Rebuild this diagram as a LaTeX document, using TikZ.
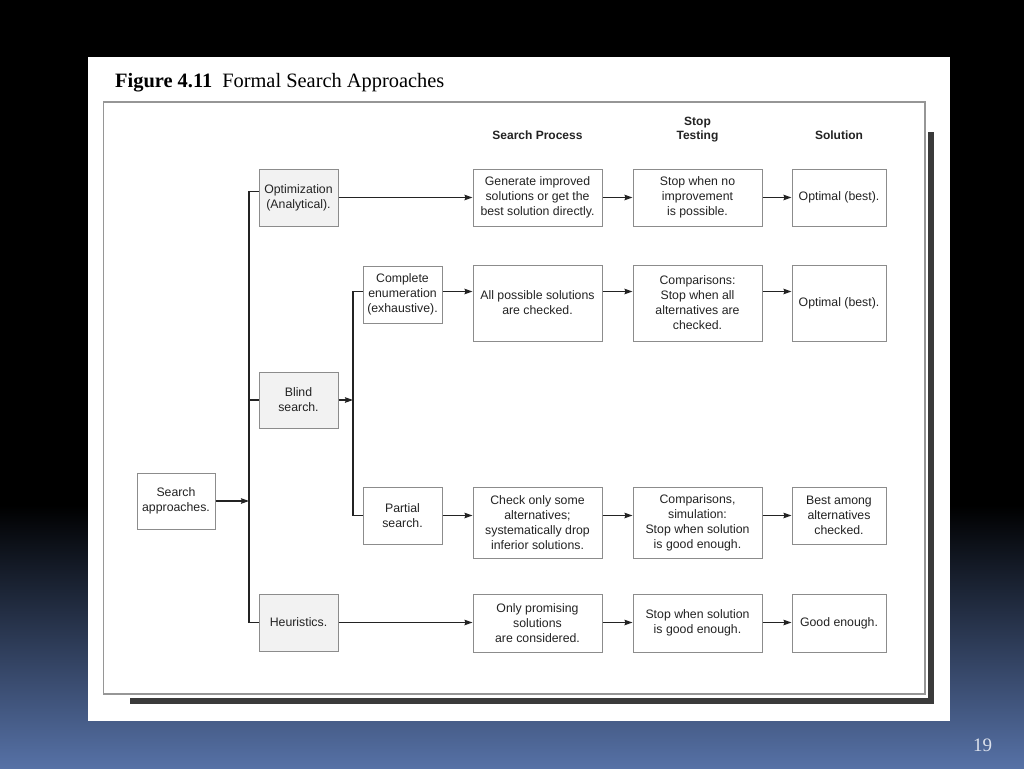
\documentclass[tikz,border=0pt]{standalone}
\usepackage{fontspec}
\setmainfont{Liberation Serif}
\newfontfamily\boxfont{Liberation Sans}
\usetikzlibrary{arrows.meta}
\definecolor{bgblue}{RGB}{86,113,166}
\definecolor{framegray}{RGB}{150,150,150}
\definecolor{boxgray}{RGB}{140,140,140}
\definecolor{shadowgray}{RGB}{58,58,58}
\definecolor{inkgray}{RGB}{35,35,35}
\definecolor{fillgray}{RGB}{242,242,242}
\definecolor{pagenum}{RGB}{220,225,236}
\begin{document}
\begin{tikzpicture}[x=1pt,y=-1pt,
  box/.style={draw=boxgray, line width=1pt, rectangle, inner sep=0pt, align=center,
    text=inkgray, font=\boxfont\fontsize{12.3}{15}\selectfont},
  grey/.style={fill=fillgray},
  head/.style={inner sep=0pt, align=center, text=inkgray, font=\boxfont\bfseries\fontsize{12}{14}\selectfont},
  conn/.style={draw=inkgray, line width=1.4pt},
  arr/.style={conn, -{Stealth[length=8pt,width=5.5pt,inset=1pt]}}
]
\useasboundingbox (0,0) rectangle (1024,768);
% background
\fill[black] (0,0) rectangle (1024,768);
\shade[top color=black, bottom color=bgblue] (0,505) rectangle (1024,768);
% white panel
\fill[white] (88,57) rectangle (950,721);
% title
\node[anchor=base west, inner sep=0pt, font=\fontsize{20.4}{24}\selectfont] (title) at (115,87)
  {\textbf{Figure 4.11}\hspace{10pt}Formal Search Approaches};
% frame with shadow
\fill[shadowgray] (928,132) rectangle (934,704);
\fill[shadowgray] (130,698) rectangle (934,704);
\draw[framegray, line width=1.2pt] (103.5,102) rectangle (925,694);
% headers
\node[head] (h1) at (537.5,135) {Search Process};
\node[head] (h2) at (697.5,129.5) {Stop\\Testing};
\node[head] (h3) at (839,135) {Solution};
% left boxes
\node[box, minimum width=78pt, minimum height=56pt] (sa) at (176,501) {Search\\approaches.};
\node[box, grey, minimum width=79pt, minimum height=57pt] (opt) at (298.5,197.5) {Optimization\\(Analytical).};
\node[box, grey, minimum width=79pt, minimum height=56pt] (blind) at (298.5,400) {Blind\\search.};
\node[box, grey, minimum width=79pt, minimum height=57pt] (heu) at (298.5,622.5) {Heuristics.};
\node[box, minimum width=79pt, minimum height=57pt] (enum) at (402.5,294.5) {Complete\\enumeration\\(exhaustive).};
\node[box, minimum width=79pt, minimum height=57pt] (part) at (402.5,515.5) {Partial\\search.};
% row 1
\node[box, minimum width=129pt, minimum height=57pt] (p1) at (537.5,197.5) {Generate improved\\solutions or get the\\best solution directly.};
\node[box, minimum width=129pt, minimum height=57pt] (s1) at (697.5,197.5) {Stop when no\\improvement\\is possible.};
\node[box, minimum width=94pt, minimum height=57pt] (o1) at (839,197.5) {Optimal (best).};
% row 2
\node[box, minimum width=129pt, minimum height=76pt] (p2) at (537.5,303) {All possible solutions\\are checked.};
\node[box, minimum width=129pt, minimum height=76pt] (s2) at (697.5,303) {Comparisons:\\Stop when all\\alternatives are\\checked.};
\node[box, minimum width=94pt, minimum height=76pt] (o2) at (839,303) {Optimal (best).};
% row 3
\node[box, minimum width=129pt, minimum height=71pt] (p3) at (537.5,522.5) {Check only some\\alternatives;\\systematically drop\\inferior solutions.};
\node[box, minimum width=129pt, minimum height=71pt] (s3) at (697.5,522.5) {Comparisons,\\simulation:\\Stop when solution\\is good enough.};
\node[box, minimum width=94pt, minimum height=57pt] (o3) at (839,515.5) {Best among\\alternatives\\checked.};
% row 4
\node[box, minimum width=129pt, minimum height=58pt] (p4) at (537.5,623) {Only promising\\solutions\\are considered.};
\node[box, minimum width=129pt, minimum height=58pt] (s4) at (697.5,623) {Stop when solution\\is good enough.};
\node[box, minimum width=94pt, minimum height=58pt] (o4) at (839,623) {Good enough.};
% trunks
\coordinate (t1) at (249,0);
\coordinate (t2) at (353,0);
\coordinate (r1) at ([yshift=6pt]opt.west);
\coordinate (r2) at ([yshift=3pt]enum.west);
\draw[conn] (r1) -- (r1 -| t1) -- (heu.west -| t1) -- (heu.west);
\draw[conn] (blind.west) -- (blind.west -| t1);
\draw[arr] (sa.east) -- (sa.east -| t1);
\draw[conn] (r2) -- (r2 -| t2) -- (part.west -| t2) -- (part.west);
\draw[arr] (blind.east) -- (blind.east -| t2);
% row arrows
\draw[arr] (opt.east) -- (opt.east -| p1.west);
\draw[arr] (opt.east -| p1.east) -- (opt.east -| s1.west);
\draw[arr] (opt.east -| s1.east) -- (opt.east -| o1.west);
\draw[arr] (r2 -| enum.east) -- (r2 -| p2.west);
\draw[arr] (r2 -| p2.east) -- (r2 -| s2.west);
\draw[arr] (r2 -| s2.east) -- (r2 -| o2.west);
\draw[arr] (part.east) -- (part.east -| p3.west);
\draw[arr] (part.east -| p3.east) -- (part.east -| s3.west);
\draw[arr] (part.east -| s3.east) -- (part.east -| o3.west);
\draw[arr] (heu.east) -- (heu.east -| p4.west);
\draw[arr] (heu.east -| p4.east) -- (heu.east -| s4.west);
\draw[arr] (heu.east -| s4.east) -- (heu.east -| o4.west);
% page number
\node[text=pagenum, inner sep=0pt, font=\fontsize{19}{22}\selectfont] (pg) at (982.5,745) {19};
\end{tikzpicture}
\end{document}
